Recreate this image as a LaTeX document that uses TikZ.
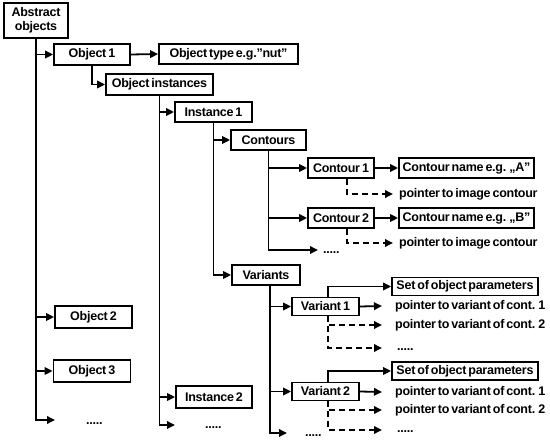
\documentclass[tikz,border=0pt]{standalone}
\usepackage{fontspec}
\setmainfont{Liberation Sans}[WordSpace=0.6,LetterSpace=-2]
\usetikzlibrary{arrows.meta}
\begin{document}
\begin{tikzpicture}[x=1pt,y=-1pt,
  every node/.style={font=\fontsize{12.5}{13.5}\selectfont\bfseries},
  box/.style={draw, line width=1.8pt, inner sep=0pt, minimum height=20pt, align=center},
  lbl/.style={anchor=west, inner sep=0pt},
  arr/.style={line width=1.8pt, -{Triangle[length=8pt,width=7.5pt]}},
  dsh/.style={arr, dash pattern=on 6pt off 4pt}]
\useasboundingbox (0,0) rectangle (550,441);
% boxes
\node[box, minimum width=64pt, minimum height=35pt] (abs) at (36,20.5) {Abstract\\objects};
\node[box, minimum width=76pt, minimum height=21pt] (obj1) at (92,54.5) {Object 1};
\node[box, minimum width=139pt] (otype) at (228.5,54) {Object type e.g.”nut”};
\node[box, minimum width=107pt, minimum height=21pt] (oinst) at (159.5,84.5) {Object instances};
\node[box, minimum width=77pt] (inst1) at (213.5,112) {Instance 1};
\node[box, minimum width=75pt] (cntrs) at (268.5,140) {Contours};
\node[box, minimum width=66pt] (c1) at (341,168) {Contour 1};
\node[box, minimum width=135pt] (cn1) at (466.5,168) {Contour name e.g. „A”};
\node[lbl] (pc1) at (399,194) {pointer to image contour};
\node[box, minimum width=66pt] (c2) at (341,218) {Contour 2};
\node[box, minimum width=135pt] (cn2) at (466.5,218) {Contour name e.g. „B”};
\node[lbl] (pc2) at (399,243) {pointer to image contour};
\node[lbl] (cdots) at (323,253) {.....};
\node[box, minimum width=68pt] (vars) at (266,275) {Variants};
\node[box, minimum width=67pt, minimum height=18pt] (v1) at (325.5,306.5) {Variant 1};
\node[box, minimum width=146pt, minimum height=18pt] (s1) at (465,286.5) {Set of object parameters};
\node[lbl] (v1p1) at (395,306) {pointer to variant of cont. 1};
\node[lbl] (v1p2) at (395,325) {pointer to variant of cont. 2};
\node[lbl] (v1p3) at (397,350) {.....};
\node[box, minimum width=67pt, minimum height=18pt] (v2) at (325.5,391.5) {Variant 2};
\node[box, minimum width=146pt, minimum height=18pt] (s2) at (465,371) {Set of object parameters};
\node[lbl] (v2p1) at (395,392) {pointer to variant of cont. 1};
\node[lbl] (v2p2) at (395,410) {pointer to variant of cont. 2};
\node[lbl] (v2p3) at (397,432) {.....};
\node[lbl] (vdots) at (305,436) {.....};
\node[box, minimum width=77pt, minimum height=22pt] (obj2) at (93.5,317) {Object 2};
\node[box, minimum width=77pt, minimum height=22pt] (obj3) at (92,371) {Object 3};
\node[lbl] (odots) at (86,424) {.....};
\node[box, minimum width=76pt, minimum height=22pt] (inst2) at (214,397) {Instance 2};
\node[lbl] (idots) at (205,428) {.....};
% free arrow ends
\coordinate (otip) at (55,420);
\coordinate (itip) at (175,425);
\coordinate (ctip) at (318,250);
\coordinate (vtip) at (287,433);
% connectors
\draw[arr] (abs.south) |- (obj1.west);
\draw[arr] (abs.south) |- (obj2.west);
\draw[arr] (abs.south) |- (obj3.west);
\draw[arr] (abs.south) |- (otip);
\draw[arr] (obj1.east) -- (otype.west);
\draw[arr] (obj1.south) |- (oinst.west);
\draw[arr] (oinst.south) |- (inst1.west);
\draw[arr] (oinst.south) |- (inst2.west);
\draw[arr] (oinst.south) |- (itip);
\draw[arr] (inst1.south) |- (cntrs.west);
\draw[arr] (inst1.south) |- (vars.west);
\draw[arr] (cntrs.south) |- (c1.west);
\draw[arr] (cntrs.south) |- (c2.west);
\draw[arr] (cntrs.south) |- (ctip);
\draw[arr] (c1.east) -- (cn1.west);
\draw[arr] (c2.east) -- (cn2.west);
\draw[dsh] ([xshift=6pt]c1.south) |- ([xshift=-6pt]pc1.west);
\draw[dsh] ([xshift=6pt]c2.south) |- ([xshift=-6pt]pc2.west);
\draw[arr] ([xshift=4pt]vars.south) |- (v1.west);
\draw[arr] ([xshift=4pt]vars.south) |- (v2.west);
\draw[arr] ([xshift=4pt]vars.south) |- (vtip);
\draw[arr] ([xshift=2.5pt]v1.north) |- (s1.west);
\draw[arr] (v1.east) -- ([xshift=-13pt]v1p1.west);
\draw[dsh] ([xshift=2.5pt]v1.south) |- ([xshift=-13pt]v1p2.west);
\draw[dsh] ([xshift=2.5pt]v1.south) |- ([xshift=-15pt,yshift=2pt]v1p3.west);
\draw[arr] ([xshift=2.5pt]v2.north) |- (s2.west);
\draw[arr] (v2.east) -- ([xshift=-13pt]v2p1.west);
\draw[dsh] ([xshift=2.5pt]v2.south) |- ([xshift=-13pt]v2p2.west);
\draw[dsh] ([xshift=2.5pt]v2.south) |- ([xshift=-15pt,yshift=2pt]v2p3.west);
\end{tikzpicture}
\end{document}
